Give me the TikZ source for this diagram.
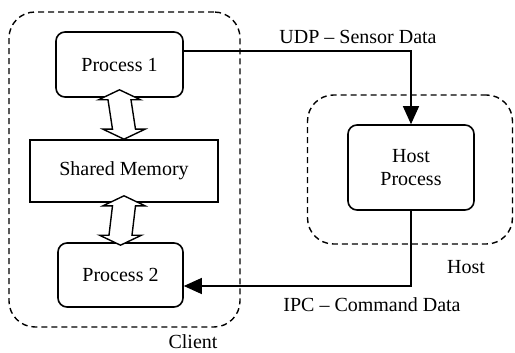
\documentclass[tikz,border=0pt]{standalone}
\usepackage{fontspec}
\setmainfont{Liberation Serif}
\usetikzlibrary{arrows.meta,calc}
\begin{document}
\begin{tikzpicture}[x=1pt,y=-1pt,
  font=\fontsize{20}{23}\selectfont,
  proc/.style={draw,line width=1.6pt,rounded corners=9pt,inner sep=0pt,align=center},
  mem/.style={draw,line width=1.6pt,inner sep=0pt},
  grp/.style={draw,line width=1.4pt,dash pattern=on 6pt off 4pt,rounded corners=26pt,inner sep=0pt},
  conn/.style={line width=1.2pt,-{Triangle[length=18pt,width=16pt]}},
  dbl/.style={draw,line width=1.4pt,fill=white,line join=miter}
]
\useasboundingbox (0,0) rectangle (515,353);
% groups
\node[grp,minimum width=231pt,minimum height=315pt] (client) at (124.5,169.5) {};
\node[grp,minimum width=205pt,minimum height=149pt] (host) at (410,169.5) {};
% processes
\node[proc,minimum width=127pt,minimum height=65pt] (p1) at (119.5,64.5) {Process 1};
\node[mem,minimum width=188pt,minimum height=62pt] (sm) at (124,171) {Shared Memory};
\node[proc,minimum width=125pt,minimum height=64pt] (p2) at (120.5,275) {Process 2};
\node[proc,minimum width=126pt,minimum height=85pt] (hp) at (411,167.5) {Host\\Process};
% labels
\node (lclient) at (193,342) {Client};
\node (lhost) at (466,267) {Host};
\node (ludp) at (358,37) {UDP – Sensor Data};
\node (lipc) at (372,305) {IPC – Command Data};
% double arrows
\coordinate (a1t) at ($(p1.south)+(0,-8)$);
\coordinate (a1b) at (sm.north);
\draw[dbl] (a1t) -- ++(21,10) -- ++(-9.5,0) -- ($(a1b)+(11.5,-10)$) -- ++(9.5,0) -- (a1b)
  -- ++(-21,-10) -- ++(9.5,0) -- ($(a1t)+(-11.5,10)$) -- ++(-9.5,0) -- cycle;
\coordinate (a2t) at ($(sm.south)+(0,-7)$);
\coordinate (a2b) at ($(p2.north)+(0,3)$);
\draw[dbl] (a2t) -- ++(21,10) -- ++(-9.5,0) -- ($(a2b)+(11.5,-10)$) -- ++(9.5,0) -- (a2b)
  -- ++(-21,-10) -- ++(9.5,0) -- ($(a2t)+(-11.5,10)$) -- ++(-9.5,0) -- cycle;
% connectors
\draw[conn] ([yshift=13.5pt]p1.east) -| (hp.north);
\draw[conn] (hp.south) |- ([yshift=-11pt]p2.east);
\end{tikzpicture}
\end{document}
